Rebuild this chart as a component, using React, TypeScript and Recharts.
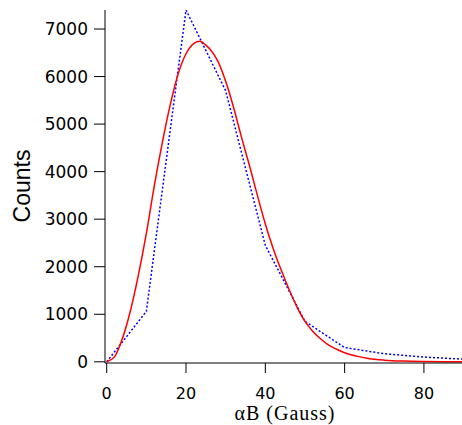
import { Line, LineChart, XAxis, YAxis } from "recharts";

// measured histogram (blue dotted)
const binX = [0, 10, 20, 30, 40, 50, 60, 70, 80, 90];
const binCounts = [0, 1060, 7400, 5700, 2450, 850, 300, 170, 100, 55];

// fitted curve (red), sampled from the plot
const fitX = [0, 2, 4, 6, 8, 10, 12, 14, 16, 18, 20, 22, 23.5, 25, 26, 28, 30, 32, 34, 36, 38, 40, 42, 44, 46, 48, 50, 52, 54, 56, 58, 60, 63, 66, 70, 75, 80, 85, 90];
const fitCounts = [0, 110, 500, 1080, 1830, 2700, 3700, 4600, 5400, 6050, 6480, 6700, 6745, 6660, 6580, 6330, 5900, 5350, 4720, 4130, 3500, 2900, 2380, 1930, 1520, 1150, 850, 640, 480, 350, 265, 190, 120, 70, 35, 15, 6, 2, 1];

const xTicks = [0, 20, 40, 60, 80];
const yTicks = [0, 1000, 2000, 3000, 4000, 5000, 6000, 7000];

const bins = binX.map((x, i) => ({ x, y: binCounts[i] }));
const fit = fitX.map((x, i) => ({ x, y: fitCounts[i] }));

const tickFont = { fontFamily: "DejaVu Sans", fill: "#000" };

export default function App() {
  return (
    <div style={{ position: "absolute", left: 0, top: 0, background: "#fff" }}>
      <LineChart width={462} height={425} margin={{ top: 10, right: 0, bottom: 0, left: 0 }}>
        <XAxis
          type="number"
          dataKey="x"
          domain={[-0.43, 89.6]}
          ticks={xTicks}
          allowDataOverflow
          height={62}
          tickSize={10}
          tickMargin={15}
          stroke="#000"
          tick={{ ...tickFont, fontSize: 16 }}
          label={{
            content: () => (
              <text x={285} y={420} textAnchor="middle" fontFamily="Liberation Serif" fontSize={20} letterSpacing={1} fill="#000">
                αB (Gauss)
              </text>
            ),
          }}
        />
        <YAxis
          type="number"
          domain={[-25, 7400]}
          ticks={yTicks}
          allowDataOverflow
          width={105}
          tickSize={11}
          tickMargin={6}
          stroke="#000"
          tick={{ ...tickFont, fontSize: 17 }}
          label={{
            content: () => (
              <text x={30} y={186} transform="rotate(-90 30 186)" textAnchor="middle" fontFamily="Liberation Sans" fontSize={23} fill="#000">
                Counts
              </text>
            ),
          }}
        />
        <Line
          data={bins}
          dataKey="y"
          type="linear"
          stroke="#0000ff"
          strokeWidth={1.5}
          strokeDasharray="2 2"
          dot={false}
          activeDot={false}
          isAnimationActive={false}
        />
        <Line
          data={fit}
          dataKey="y"
          type="monotone"
          stroke="#ff0000"
          strokeWidth={1.5}
          dot={false}
          activeDot={false}
          isAnimationActive={false}
        />
      </LineChart>
    </div>
  );
}
